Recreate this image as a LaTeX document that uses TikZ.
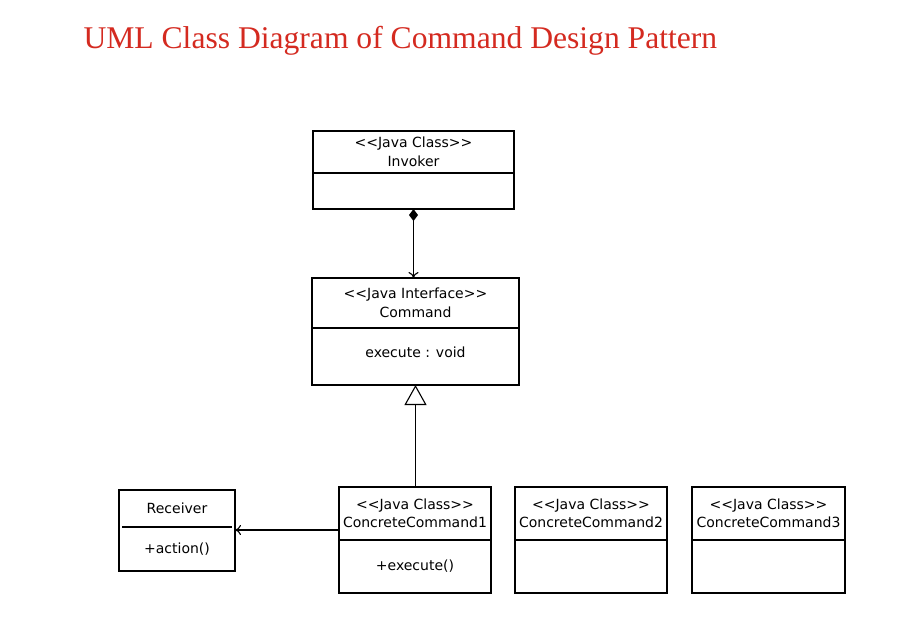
\documentclass[tikz,border=0pt]{standalone}
\usepackage{fontspec}
\setmainfont{Liberation Serif}
\newfontfamily\umlfont{DejaVu Sans}
\usetikzlibrary{positioning,arrows.meta}
\definecolor{titlered}{HTML}{D42A20}
\tikzset{
	classbox/.style={draw, line width=1.1pt, inner sep=0pt, outer sep=0pt, align=center, font=\umlfont\fontsize{14}{18.5}\selectfont},
	plainbox/.style={classbox, draw=none},
	link/.style={line width=1.1pt}
}

\begin{document}
\begin{tikzpicture}[x=1pt, y=-1pt]
			\useasboundingbox (0, 0) rectangle (906, 633); %same size as the screenshot
			\node[anchor=base west, text=titlered, font=\fontsize{31.6}{36}\selectfont] (title) at (80, 48) {UML Class Diagram of Command Design Pattern};
			
			%Invoker
			\node[classbox, minimum width=201pt, minimum height=42pt] (invhead) at (413.5, 152) {<<Java Class>>\\Invoker};
			\node[classbox, minimum width=201pt, minimum height=36pt, below=0pt of invhead] (invbody) {};
			
			%Command interface
			\node[classbox, minimum width=207pt, minimum height=50pt] (cmdhead) at (415.5, 303) {<<Java Interface>>\\Command};
			\node[classbox, minimum width=207pt, minimum height=57pt, below=0pt of cmdhead] (cmdbody) {\raisebox{8pt}{execute : void}};
			
			%the three concrete commands
			\node[classbox, minimum width=152pt, minimum height=53pt] (cconehead) at (415, 513.5) {<<Java Class>>\\ConcreteCommand1};
			\node[classbox, minimum width=152pt, minimum height=53pt, below=0pt of cconehead] (cconebody) {+execute()};
			\node[classbox, minimum width=152pt, minimum height=53pt] (cctwohead) at (591, 513.5) {<<Java Class>>\\ConcreteCommand2};
			\node[classbox, minimum width=152pt, minimum height=53pt, below=0pt of cctwohead] (cctwobody) {};
			\node[classbox, minimum width=153pt, minimum height=53pt] (ccthreehead) at (768.5, 513.5) {<<Java Class>>\\ConcreteCommand3};
			\node[classbox, minimum width=153pt, minimum height=53pt, below=0pt of ccthreehead] (ccthreebody) {};
			
			%Receiver - its line does not touch the sides
			\node[plainbox, minimum width=116pt, minimum height=37pt] (rechead) at (177, 508.5) {Receiver};
			\node[plainbox, minimum width=116pt, minimum height=44pt, below=0pt of rechead] (recbody) {+action()};
			\draw[link] (rechead.north west) rectangle (recbody.south east);
			\draw[link] ([xshift=3pt]rechead.south west) -- ([xshift=-3pt]rechead.south east);
			
			%connectors
			\draw[link, {Diamond[length=12pt, width=9pt]}-{To[length=6pt, width=10pt]}] (invbody.south) -- (invbody.south |- cmdhead.north); %composition
			\draw[link, -{Triangle[open, length=20pt, width=22pt, line width=1.1pt]}] (cmdbody.south |- cconehead.north) -- (cmdbody.south); %inheritance
			\draw[link, -{To[length=6pt, width=10pt]}] ([yshift=10pt]cconehead.south west) -- ([yshift=-3pt]recbody.north east);
		\end{tikzpicture}
\end{document}
